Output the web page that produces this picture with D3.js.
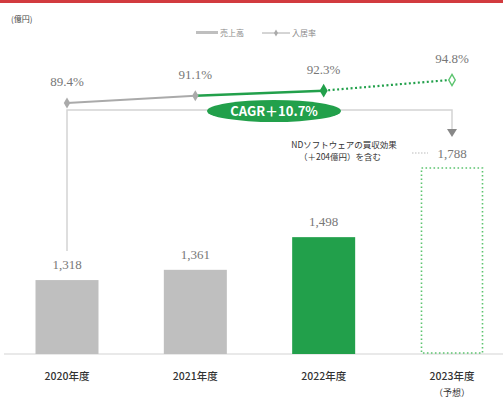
<!DOCTYPE html>
<html>
<head>
<meta charset="utf-8">
<script src="https://cdn.jsdelivr.net/npm/d3@7"></script>
<style>
  body { margin: 0; background: #fff; }
  svg { display: block; }
</style>
</head>
<body>
<div id="chart"></div>
<script>
const categories = ["2020年度", "2021年度", "2022年度", "2023年度"];
const sales = [1318, 1361, 1498, 1788];
const salesLabels = ["1,318", "1,361", "1,498", "1,788"];
const occupancy = [89.4, 91.1, 92.3, 94.8];
const occupancyLabels = ["89.4%", "91.1%", "92.3%", "94.8%"];

const width = 503, height = 401;
const baseY = 354;
const barW = 63;
const green = "#22a04b";
const lightGreen = "#5cc46f";
const gray = "#bfbfbf";

const svg = d3.select("#chart").append("svg")
    .attr("width", width)
    .attr("height", height)
    .attr("style", "font-family: 'Noto Sans CJK JP', sans-serif;");

// top red rule
svg.append("rect").attr("x", 0).attr("y", 0).attr("width", width).attr("height", 3).attr("fill", "#d23b3f");

const x = d3.scalePoint().domain(categories).range([67, 452]);
const y = d3.scaleLinear().domain([1008, 1788]).range([baseY, 168]);
const yr = d3.scaleLinear().domain([89.4, 94.8]).range([103, 80]);

// unit
svg.append("text").attr("x", 11).attr("y", 22).attr("font-size", 8).attr("fill", "#444").text("(億円)");

// legend
const lg = svg.append("g").attr("font-size", 8).attr("fill", "#888");
lg.append("rect").attr("x", 196).attr("y", 31).attr("width", 22).attr("height", 3).attr("fill", gray);
lg.append("text").attr("x", 220).attr("y", 36).text("売上高");
lg.append("line").attr("x1", 262).attr("x2", 290).attr("y1", 33).attr("y2", 33).attr("stroke", "#aaa").attr("stroke-width", 1);
lg.append("path").attr("d", d3.symbol(d3.symbolDiamond, 14)()).attr("transform", "translate(276,33)").attr("fill", "#aaa");
lg.append("text").attr("x", 292).attr("y", 36).text("入居率");

// baseline
svg.append("line").attr("x1", 4).attr("x2", width).attr("y1", baseY).attr("y2", baseY)
    .attr("stroke", "#e2e2e2").attr("stroke-width", 1.5);

// bars
const data = categories.map((c, i) => ({ c, v: sales[i], label: salesLabels[i], i }));
svg.append("g").selectAll("rect").data(data.slice(0, 3)).join("rect")
    .attr("x", d => x(d.c) - barW / 2)
    .attr("y", d => y(d.v))
    .attr("width", barW)
    .attr("height", d => baseY - y(d.v))
    .attr("fill", d => d.i === 2 ? green : gray);

// forecast bar (dotted outline)
const f = data[3];
svg.append("rect")
    .attr("x", x(f.c) - barW / 2 + 1)
    .attr("y", y(f.v))
    .attr("width", barW - 2)
    .attr("height", baseY - y(f.v) - 1)
    .attr("fill", "none")
    .attr("stroke", lightGreen)
    .attr("stroke-width", 1.6)
    .attr("stroke-dasharray", "1.6,2.4");

// bar labels
svg.append("g").selectAll("text").data(data).join("text")
    .attr("x", d => x(d.c))
    .attr("y", d => d.i === 3 ? 158 : y(d.v) - 11)
    .attr("text-anchor", "middle")
    .attr("font-family", "'Liberation Serif', serif")
    .attr("font-size", 13)
    .attr("fill", "#777")
    .text(d => d.label);

// category labels
svg.append("g").selectAll("text").data(data).join("text")
    .attr("x", d => x(d.c))
    .attr("y", 380)
    .attr("text-anchor", "middle")
    .attr("font-size", 10.5)
    .attr("font-weight", 500)
    .attr("fill", "#333")
    .text(d => d.c);
svg.append("text").attr("x", x(categories[3])).attr("y", 396).attr("text-anchor", "middle")
    .attr("font-size", 9).attr("fill", "#333").text("（予想）");

// bracket from 2020 to 2023
const bx0 = x(categories[0]), bx1 = x(categories[3]);
svg.append("path")
    .attr("d", `M${bx0},251 V110 H${bx1} V130`)
    .attr("fill", "none").attr("stroke", "#d4d4d4").attr("stroke-width", 1.5);
svg.append("path")
    .attr("d", `M${bx1 - 5},129 L${bx1 + 5},129 L${bx1},137 Z`)
    .attr("fill", "#888");

// occupancy line
const pts = categories.map((c, i) => [x(c), yr(occupancy[i])]);
svg.append("line").attr("x1", pts[0][0]).attr("y1", pts[0][1]).attr("x2", pts[1][0]).attr("y2", pts[1][1])
    .attr("stroke", "#aaa").attr("stroke-width", 2);
svg.append("line").attr("x1", pts[1][0]).attr("y1", pts[1][1]).attr("x2", pts[2][0]).attr("y2", pts[2][1])
    .attr("stroke", green).attr("stroke-width", 2.5);
svg.append("line").attr("x1", pts[2][0]).attr("y1", pts[2][1]).attr("x2", pts[3][0] - 5).attr("y2", pts[3][1] + 0.2)
    .attr("stroke", green).attr("stroke-width", 2.2).attr("stroke-dasharray", "2,2.5");

const diamond = d3.symbol(d3.symbolDiamond, 36);
svg.append("g").selectAll("path").data(pts).join("path")
    .attr("d", (d, i) => i === 2 ? d3.symbol(d3.symbolDiamond, 56)() : diamond())
    .attr("transform", d => `translate(${d[0]},${d[1]})`)
    .attr("fill", (d, i) => i === 2 ? green : i === 3 ? "#fff" : "#aaa")
    .attr("stroke", (d, i) => i === 3 ? lightGreen : "none")
    .attr("stroke-width", 1.4);

// occupancy labels
svg.append("g").selectAll("text").data(pts).join("text")
    .attr("x", d => d[0])
    .attr("y", d => d[1] - 17)
    .attr("text-anchor", "middle")
    .attr("font-family", "'Liberation Serif', serif")
    .attr("font-size", 13)
    .attr("fill", "#777")
    .text((d, i) => occupancyLabels[i]);

// CAGR badge
svg.append("ellipse").attr("cx", 274).attr("cy", 111).attr("rx", 67).attr("ry", 11).attr("fill", green);
svg.append("text").attr("x", 274).attr("y", 116).attr("text-anchor", "middle")
    .attr("font-size", 13).attr("font-weight", "bold").attr("fill", "#fff")
    .text("CAGR＋10.7%");

// acquisition note
const note = svg.append("g").attr("font-size", 8.5).attr("fill", "#333").attr("text-anchor", "middle");
note.append("text").attr("x", 344).attr("y", 148).text("NDソフトウェアの買収効果");
note.append("text").attr("x", 340).attr("y", 160).text("（＋204億円）を含む");
svg.append("line").attr("x1", 412).attr("x2", 428).attr("y1", 153).attr("y2", 153)
    .attr("stroke", "#bbb").attr("stroke-dasharray", "1.5,1.5");
</script>
</body>
</html>
